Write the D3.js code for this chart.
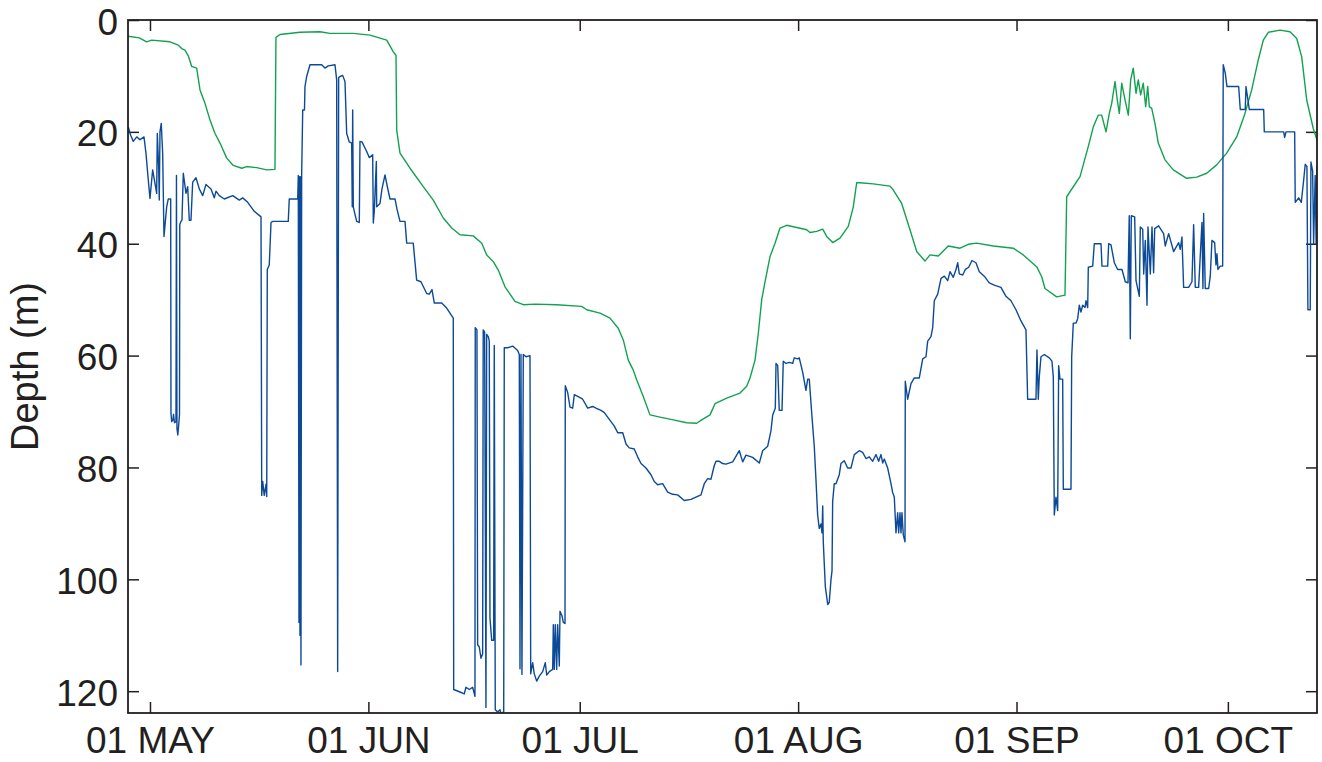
<!DOCTYPE html>
<html><head><meta charset="utf-8">
<script src="https://cdn.jsdelivr.net/npm/d3@7"></script>
<style>
html,body{margin:0;padding:0;background:#fff;}
svg{display:block;}
</style></head><body>
<svg id="chart" width="1322" height="762"></svg>
<script>
// ---- data (time = days after 01 MAY, depth in m) ----
const yTickValues = [0, 20, 40, 60, 80, 100, 120];
const xDomainDays = [-3.12, 165.65];
const yDomain = [0, 123.9];
const yLabel = "Depth (m)";

const greenDay = [
-3.12,-1.52,-0.47,0.24,2.84,4.02,4.50,4.97,5.44,5.92,
6.63,7.10,7.81,8.52,9.23,9.94,10.89,11.82,13.02,13.73,
15.15,16.57,17.74,17.88,18.45,21.29,24.13,25.55,28.86,31.23,
33.60,34.54,34.92,35.02,35.49,36.91,38.79,40.21,41.63,42.83,
44.00,45.89,47.09,47.80,48.73,49.44,50.39,51.81,52.99,54.65,
57.73,61.28,61.99,63.88,65.29,66.47,67.18,67.89,68.60,69.08,
70.02,70.97,72.39,74.28,76.18,77.60,78.31,79.49,80.20,81.86,
83.75,84.70,85.17,85.88,86.35,86.83,87.30,88.01,88.72,89.43,
90.38,91.80,93.22,93.68,94.63,95.49,96.05,96.91,97.94,99.12,
99.83,100.31,100.78,102.67,105.04,105.51,106.70,107.88,108.83,110.01,
110.72,111.89,113.31,114.98,116.15,117.34,119.70,122.54,123.96,125.86,
126.57,127.04,128.70,129.88,130.12,132.01,133.19,133.90,134.61,135.09,
135.70,136.17,136.51,136.98,137.30,137.59,137.93,138.40,138.87,139.20,
139.57,139.96,140.28,140.62,140.99,141.33,141.62,141.85,142.19,142.65,
143.12,144.07,145.25,147.15,148.57,149.99,151.41,152.83,154.25,155.43,
156.38,157.32,158.03,158.74,160.40,161.82,162.77,163.48,164.19,165.12,
165.79];
const greenDepth = [
2.9,3.2,3.9,3.6,3.9,4.5,5.1,5.4,6.4,8.3,
8.6,12.5,14.9,17.9,20.3,22,24.7,26,26.5,26.2,
26.4,26.8,26.7,3.1,2.6,2.2,2.1,2.4,2.4,2.7,
3.6,5.7,6.3,19.7,23.8,26.5,29.8,32.2,35.4,37.2,
38.4,38.6,39.9,42,43.2,44.7,47.7,50.3,50.9,50.8,
50.9,51.2,51.8,52.4,53.3,55.1,57.2,60.8,62.6,64.3,
67.3,70.6,71,71.5,72,72.1,71.5,70.6,68.6,67.6,
66.7,65.5,64,60.8,56,50,46.8,42.3,39.9,37.2,
36.7,37.1,37.5,38,37.8,37.4,38.7,39.8,39,36.9,
33.4,29.1,29.1,29.3,29.7,30.4,32.8,37.5,41.4,43.1,
42,42.2,40.4,40.8,40.1,39.9,40.4,40.8,42,44.1,
45.9,48,49.5,49.2,31.6,28,22.6,19.1,17,17,
20,16.7,14.9,11,14.3,16.7,11.3,14.3,17,10.7,
8.6,13.1,10.7,13.4,11.3,15.5,11.9,15.5,15.8,18.5,
22,25,26.8,28.3,28.1,27.4,25.9,23.8,20.9,16.7,
12.5,7.1,3.6,2.2,1.8,2.1,3.3,6.6,14.3,19.4,
22];

const blueDay = [
-3.08,-2.74,-2.37,-1.89,-1.42,-0.85,-0.57,-0.24,0,0.38,
0.71,0.95,1.04,1.23,1.32,1.42,1.60,1.80,1.99,2.37,
2.60,2.94,2.98,3.08,3.26,3.34,3.48,3.69,3.76,3.83,
3.95,4.07,4.19,4.23,4.40,4.54,4.73,5.11,5.35,5.58,
5.82,6.06,6.53,7.00,7.48,7.95,8.66,9.13,9.37,9.84,
10.55,11.74,12.68,13.16,13.87,14.34,14.80,15.76,15.86,16.00,
16.22,16.47,16.57,16.65,16.93,17.18,17.42,19.63,19.77,20.97,
21.05,21.15,21.22,21.29,21.36,21.43,21.53,21.68,21.93,22.00,
22.24,22.71,24.37,24.84,25.31,26.26,26.50,26.64,26.78,26.97,
27.35,27.68,27.92,28.29,28.63,28.71,28.77,28.86,29.00,29.34,
29.71,29.81,30.09,30.76,31.13,31.61,31.70,31.84,32.13,32.18,
32.65,32.93,33.36,33.64,34.07,34.78,35.06,35.49,36.20,36.44,
37.37,37.85,38.46,39.28,39.65,40.03,40.36,41.41,42.11,42.58,
43.05,43.11,43.91,44.61,44.85,45.32,45.80,46.13,46.17,46.41,
46.51,46.74,46.98,47.22,47.30,47.50,47.69,47.79,48.02,48.16,
48.26,48.50,48.78,48.87,49.01,49.35,49.68,49.82,50.21,50.29,
50.77,51.48,52.19,52.42,52.52,52.66,52.80,52.99,53.37,53.94,
54.04,54.32,54.55,54.89,55.26,55.74,56.11,56.31,56.68,57.16,
57.25,57.39,57.53,57.73,57.87,58.10,58.20,58.48,58.67,58.91,
58.95,59.29,59.62,60.00,60.23,60.85,61.42,62.13,62.84,63.31,
64.02,64.49,65.20,65.91,66.39,67.10,67.57,68.03,68.74,69.22,
69.70,70.40,71.11,71.58,72.06,72.77,73.48,74.19,74.90,75.84,
76.79,77.50,78.21,78.68,79.16,79.63,80.09,80.34,80.81,81.29,
81.76,82.71,83.65,84.13,84.60,85.55,86.49,86.97,87.68,88.15,
88.39,88.76,88.86,89.10,89.32,89.71,89.89,90.28,90.75,91.23,
91.45,91.94,92.16,92.65,93.11,93.36,93.58,93.97,94.29,94.53,
94.77,95.00,95.24,95.39,95.49,95.57,95.86,96.20,96.42,96.66,
96.81,96.90,97.13,97.37,97.84,98.08,98.55,99.03,99.50,99.97,
100.68,101.16,101.63,102.10,102.58,103.05,103.43,103.76,104.00,104.23,
104.71,105.18,105.42,105.65,105.89,106.13,106.27,106.46,106.60,106.74,
106.93,107.17,107.21,107.55,108.02,108.49,109.20,109.68,110.15,110.39,
110.86,111.10,111.33,111.81,112.28,112.75,113.23,113.56,114.02,114.41,
114.65,114.88,115.36,115.73,116.21,116.68,117.24,117.72,118.42,119.13,
119.84,120.79,121.50,122.21,122.92,123.63,124.34,124.58,125.76,125.90,
126.09,126.23,126.47,126.94,127.65,128.03,128.22,128.36,128.60,128.84,
128.98,129.17,129.55,129.64,130.73,130.83,131.06,131.44,131.68,131.91,
132.15,132.39,132.72,132.86,133.10,133.19,133.81,134.04,134.99,135.13,
135.94,136.08,136.41,136.88,137.36,137.97,138.44,138.82,139.00,139.15,
139.29,139.77,139.96,140.43,140.57,140.91,141.05,141.28,141.52,141.66,
141.99,142.23,142.46,142.61,143.17,143.88,144.11,144.59,145.30,146.01,
146.24,146.48,146.72,147.43,147.90,148.14,148.37,148.85,149.32,149.46,
149.56,149.79,150.27,150.50,150.74,151.12,151.31,151.45,151.59,151.92,
152.26,152.34,152.63,152.87,154.53,154.76,155.47,155.57,155.85,156.04,
158.08,158.17,160.92,161.06,161.25,162.48,162.56,163.05,163.42,163.76,
163.98,164.22,164.36,164.69,164.79,165.03,165.17,165.39,165.53,165.63,
165.75,165.90];
const blueDepth = [
19.1,20.6,21.7,20.9,21.4,20.9,23.8,28.6,31.9,26.8,
29.2,31,20.3,26.2,32.2,20,18.5,23.8,38.7,33.4,
32,32,70.3,71.8,71.5,70.5,72,71.8,27.8,73,
74.2,72.5,70.5,36.6,36,35.8,27.4,31,29.8,35.8,
35.8,29,28.2,30.2,31.4,29.4,30.2,31.8,30.6,31.4,
32,31.4,32.2,31.8,32.6,33.4,34.2,35.2,85,82.5,
85,83,85.2,44.6,43.8,36.2,36,36,32,32,
27.8,107.7,28,110,28,115.3,27.7,16.1,16.1,11.9,
10.1,8,8,8.6,8.2,8,10.7,116.5,10.3,10.1,
9.9,11,20.3,21.8,22,33.4,16.1,33.4,34.2,36,
36.2,21.7,21.8,23.5,24.6,24.1,36.3,34.2,25.3,33.4,
32.8,30.2,27.7,29.5,32,32,33.8,36,36,39.9,
39.9,46.5,46.8,48.9,49,48.2,50.6,50.6,51.5,52.4,
53.3,119.7,120.1,120.5,119.3,119.7,119.3,120.9,55,55.4,
111.7,112.1,114.1,113.3,55.4,55.8,122.9,56.2,56.6,57.4,
106.9,110.9,110.9,58.2,123.3,123.7,123.3,124,123.7,58.6,
58.6,58.3,59.1,59.8,116,59.8,117,59.8,60.2,60,
116.9,114.9,116.9,118.2,117.3,116.5,114.9,117.1,116.5,116.1,
108.1,116.1,108.1,116.1,108.1,115.5,105.7,106.5,107.7,107.9,
65.4,66.6,69.2,69.4,67,67.4,67.8,69.4,69.1,69.4,
69.8,70.2,71.4,72.6,73.8,73.8,75.8,76.5,76.7,78.1,
79.3,80.1,81.3,82.5,83.1,82.9,84.4,84.8,84.9,85.9,
85.7,85.3,84.9,82.9,82,82.1,79.7,78.9,78.9,79.3,
79.4,79,77,79,77.8,78.2,79.2,77,76.2,73.4,
70.6,69.4,61.4,61.8,69.8,69.8,61,61.4,61.2,61.4,
60.4,60.6,60.4,63,66.2,64.2,64.2,71,76.2,82.1,
88.5,90.9,90.1,91.7,86.9,93.3,101.3,104.5,104.1,100.1,
98.5,86.1,82.9,82.9,81.3,79.3,78.8,80.1,80.1,77.7,
77,77.3,78.4,78.1,78.9,77.7,78.9,77.7,79.2,78.5,
80.1,82.9,84.5,85.3,91.7,88.1,91.7,88.1,91.7,88.1,
92.1,93.3,64.6,67.8,65,64,64,60.6,60.2,57.4,
56.6,55,50.2,49,46.2,45.8,46.6,45,46,44.6,
43.4,45.4,45.6,44.6,44.2,43,43.4,45,45.8,47,
47.4,47.8,49.4,50.2,51.8,53.8,55.4,67.8,67.8,59,
67.8,63.8,60.2,59.8,60.4,61,63.8,88.5,85.3,87.7,
61.8,64.2,64.2,83.9,83.9,60.2,54.2,54.2,53.4,51,
52.2,51,51.4,50.2,51.4,44.2,44,40,40,44,
44,40,40.2,43.4,44.6,44.6,46.8,47,35,57,
35,35.2,46.6,49.4,37,37.4,45.4,39.4,51,37,
45.4,37,45.2,37.3,36.8,38.2,40.4,38.2,41.4,39.8,
41,38.8,47.8,47.8,46.8,36.6,47.8,47.8,36.2,48,
34.6,48,48,45.8,39.4,39.8,43.8,41.8,44.6,44,
44,8,9.5,11.9,11.9,16,16,11.9,14.3,16,
16,20,20,21,20,20,32.6,31.8,32.6,28.6,
25.8,26.2,51.8,51.8,25.4,27,40,27.8,40,26.2,
30,35];

// ---- layout ----
const W = 1322, H = 762;
const plot = {left: 128, right: 1317, top: 20, bottom: 713};
const ink = "#231f20";
const fontFam = "'Liberation Sans', Arial, Helvetica, sans-serif";
const tickFontSize = 37;
const labelFontSize = 38;

const baseTime = Date.UTC(2013, 4, 1);
const toDate = d => new Date(baseTime + d * 86400000);

const x = d3.scaleUtc().domain(xDomainDays.map(toDate)).range([plot.left, plot.right]);
const y = d3.scaleLinear().domain(yDomain).range([plot.top, plot.bottom]);

const svg = d3.select("#chart");
svg.append("rect").attr("width", W).attr("height", H).attr("fill", "#fff");

svg.append("defs").append("clipPath").attr("id", "clip")
  .append("rect")
  .attr("x", plot.left).attr("y", plot.top)
  .attr("width", plot.right - plot.left).attr("height", plot.bottom - plot.top);

const monthTicks = d3.utcMonth.range(x.domain()[0], x.domain()[1]);
const fmtMonth = d => d3.utcFormat("%d %b")(d).toUpperCase();

function styleAxis(g) {
  g.select(".domain").remove();
  g.selectAll(".tick line").attr("stroke", ink).attr("stroke-width", 1.5);
  g.selectAll(".tick text").attr("fill", ink).attr("font-size", tickFontSize).attr("font-family", fontFam);
}

svg.append("g").attr("transform", `translate(0,${plot.bottom})`)
  .call(d3.axisBottom(x).tickValues(monthTicks).tickFormat(fmtMonth).tickSize(-11).tickPadding(14))
  .call(styleAxis);
svg.append("g").attr("transform", `translate(0,${plot.top})`)
  .call(d3.axisTop(x).tickValues(monthTicks).tickFormat("").tickSize(-11))
  .call(styleAxis);
svg.append("g").attr("transform", `translate(${plot.left},0)`)
  .call(d3.axisLeft(y).tickValues(yTickValues).tickSize(-11).tickPadding(10))
  .call(styleAxis)
  .call(g => g.selectAll(".tick text").attr("dy", "0.38em"));
svg.append("g").attr("transform", `translate(${plot.right},0)`)
  .call(d3.axisRight(y).tickValues(yTickValues).tickFormat("").tickSize(-11))
  .call(styleAxis);

const line = d3.line().x(d => x(toDate(d[0]))).y(d => y(d[1]));
const lines = svg.append("g").attr("clip-path", "url(#clip)");
lines.append("path").datum(d3.zip(greenDay, greenDepth))
  .attr("d", line).attr("fill", "none").attr("stroke", "#12a24f")
  .attr("stroke-width", 1.4).attr("stroke-linejoin", "round");
lines.append("path").datum(d3.zip(blueDay, blueDepth))
  .attr("d", line).attr("fill", "none").attr("stroke", "#0c4a98")
  .attr("stroke-width", 1.4).attr("stroke-linejoin", "round");

svg.append("rect")
  .attr("x", plot.left).attr("y", plot.top)
  .attr("width", plot.right - plot.left).attr("height", plot.bottom - plot.top)
  .attr("fill", "none").attr("stroke", ink).attr("stroke-width", 1.8);

svg.append("text")
  .attr("transform", `translate(38,${(plot.top + plot.bottom) / 2}) rotate(-90)`)
  .attr("text-anchor", "middle")
  .attr("font-size", labelFontSize).attr("font-family", fontFam).attr("fill", ink)
  .text(yLabel);
</script>
</body></html>
